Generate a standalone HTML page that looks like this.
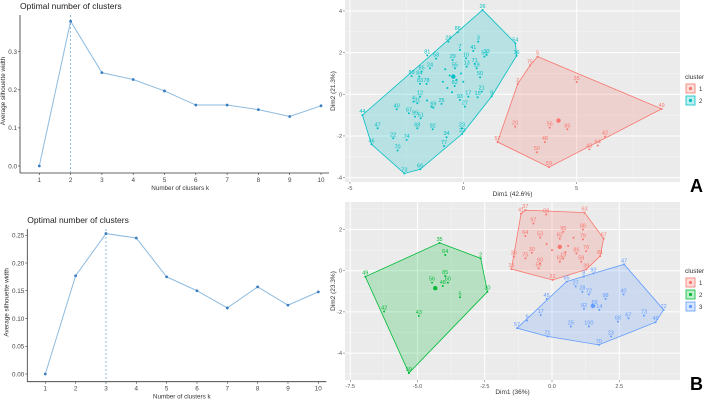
<!DOCTYPE html>
<html><head><meta charset="utf-8"><style>
body{margin:0;background:#fff;font-family:"Liberation Sans",sans-serif}
svg{display:block}
</style></head><body>
<svg id="s" width="708" height="401" xmlns="http://www.w3.org/2000/svg" font-family="Liberation Sans, sans-serif"></svg>
<script>
// ---- Panel A line chart
const kA=[1,2,3,4,5,6,7,8,9,10];
const silA=[0,0.38,0.245,0.227,0.197,0.16,0.16,0.148,0.13,0.158];
const yTicksA=[0,0.1,0.2,0.3];
const yLabA=["0.0","0.1","0.2","0.3"];
const optA=2;
// ---- Panel B line chart
const kB=[1,2,3,4,5,6,7,8,9,10];
const silB=[0,0.177,0.253,0.245,0.175,0.15,0.119,0.157,0.124,0.148];
const yTicksB=[0,0.05,0.1,0.15,0.2,0.25];
const yLabB=["0.00","0.05","0.10","0.15","0.20","0.25"];
const optB=3;
// ---- Panel A scatter: [label,x,y,cluster]
const ptsA=[
["26",0.85,4.05,2],["54",2.3,2.45,2],["16",2.35,1.85,2],["9",1.25,-0.1,2],["22",-0.05,-1.9,2],["66",-1.9,-3.6,2],["73",-2.6,-3.8,2],["46",-4.05,-2.4,2],["44",-4.45,-1.0,2],
["3",0.66,2.53,2],["41",0.44,2.08,2],["7",-0.15,2.13,2],["10",0.12,1.73,2],["29",-0.47,1.65,2],["81",-1.59,1.87,2],["58",-1.2,1.71,2],["24",-1.47,1.25,2],["85",-1.84,1.09,2],["89",-2.28,0.88,2],["84",-1.94,0.85,2],["83",-1.91,0.5,2],["78",-1.62,0.5,2],["12",-1.91,-0.11,2],["4",-2.2,-0.35,2],["31",-2.03,-0.43,2],["40",-2.94,-0.72,2],["67",-2.4,-0.91,2],["99",-2.13,-1.07,2],["61",-1.88,-1.15,2],["68",-2.03,-1.63,2],["47",-3.78,-1.63,2],["22",-3.09,-2.11,2],["74",-2.5,-2.19,2],["70",-2.9,-2.7,2],["92",-1.35,-1.68,2],["34",-0.74,-2.06,2],["77",-0.85,-2.48,2],["23",-0.06,-1.63,2],["25",-0.96,-0.46,2],["69",-1.32,-0.64,2],["93",-0.15,-0.27,2],["27",0.07,-0.59,2],["17",0.22,-0.11,2],["15",0.63,-0.14,2],["21",0.81,0.13,2],["50",0.74,0.82,2],["33",1.03,1.89,2],["53",0.93,1.81,2],["71",0.5,1.46,2],["19",0.59,1.25,2],["13",0.15,1.33,2],["55",-0.37,1.25,2],["82",-0.38,0.4,2],["28",-0.66,2.53,2],["86",-0.25,2.98,2],["",-0.8,1.2,2],["",-0.6,0.9,2],["",-0.3,0.7,2],["",-0.1,1.0,2],["",-0.7,0.3,2],["",-0.9,0.6,2],["",-0.5,0.1,2],["",0.0,0.6,2],["",-1.6,-0.3,2],["",-1.4,-0.6,2],
["5",3.28,1.81,1],["75",2.94,1.38,1],["2",2.4,0.5,1],["35",5.0,0.59,1],["49",8.75,-0.7,1],["42",6.25,-2.03,1],["64",5.93,-2.46,1],["43",5.56,-2.64,1],["59",3.78,-3.5,1],["50",3.24,-2.78,1],["48",3.6,-2.29,1],["56",3.81,-1.6,1],["85",4.59,-1.68,1],["20",2.29,-1.55,1],["57",1.51,-2.29,1]];
const hullA1=[[3.28,1.81],[8.75,-0.7],[3.78,-3.5],[1.51,-2.29],[2.4,0.5],[2.94,1.38]];
const hullA2=[[0.85,4.05],[2.3,2.45],[2.35,1.85],[1.25,-0.1],[-0.05,-1.9],[-1.9,-3.6],[-2.6,-3.8],[-4.05,-2.4],[-4.45,-1.0]];
const centA=[[4.2,-1.26,1],[-0.44,0.85,2]];
// ---- Panel B scatter
const ptsB=[
["35",-4.18,1.35,2],["2",-2.65,0.6,2],["30",-2.4,-1.02,2],["59",-5.32,-4.97,2],["49",-6.94,-0.29,2],["64",-3.97,0.76,2],["85",-3.97,-0.26,2],["56",-4.46,-0.58,2],["48",-4.06,-0.74,2],["60",-3.87,-0.58,2],["5",-3.42,-1.29,2],["43",-4.95,-2.19,2],["42",-6.24,-1.98,2],
["37",-0.99,2.94,1],["63",1.21,2.82,1],["67",1.92,1.56,1],["81",1.79,0.71,1],["39",1.27,0.06,1],["21",0.02,-0.45,1],["15",-1.51,0.08,1],["41",-1.15,2.77,1],["98",-0.22,2.73,1],["97",-0.69,2.29,1],["64",-0.99,1.69,1],["88",1.15,2.0,1],["95",0.42,1.89,1],["30",-0.75,0.87,1],["36",-1.42,0.68,1],["75",-0.99,0.6,1],["60",-0.44,0.35,1],["55",-0.5,0.11,1],["86",0.91,0.84,1],["76",1.27,0.95,1],["58",1.09,0.44,1],["79",1.15,1.52,1],["19",0.42,0.6,1],["62",0.29,0.44,1],["53",-0.44,1.61,1],["82",0.29,1.56,1],["",0.6,1.2,1],["",0.0,1.0,1],["",0.8,1.6,1],["",-0.2,1.3,1],["",0.5,0.9,1],
["47",2.68,0.31,3],["22",4.15,-1.9,3],["46",3.85,-2.5,3],["70",1.74,-3.6,3],["71",-0.17,-3.19,3],["57",-1.3,-2.79,3],["65",0.54,-0.53,3],["93",1.54,-0.13,3],["8",1.18,-0.29,3],["27",0.88,-0.77,3],["28",1.13,-1.02,3],["72",1.37,-1.15,3],["98",1.99,-1.37,3],["40",2.66,-1.15,3],["45",-0.2,-1.37,3],["17",-0.42,-2.15,3],["9",-0.93,-2.42,3],["25",0.7,-2.71,3],["100",1.37,-2.71,3],["92",1.19,-1.85,3],["69",1.58,-1.71,3],["14",1.76,-1.9,3],["68",2.45,-2.47,3],["67",2.84,-2.31,3],["73",3.42,-2.18,3],["23",2.19,-3.19,3]];
const hullB1=[[-1.15,2.77],[-0.99,2.94],[1.21,2.82],[1.92,1.56],[1.79,0.71],[1.27,0.06],[0.02,-0.45],[-1.51,0.08]];
const hullB2=[[-4.18,1.35],[-2.65,0.6],[-2.4,-1.02],[-5.32,-4.97],[-6.94,-0.29]];
const hullB3=[[2.68,0.31],[4.15,-1.9],[3.85,-2.5],[1.74,-3.6],[-0.17,-3.19],[-1.3,-2.79],[0.54,-0.53],[1.54,-0.13]];
const centB=[[0.29,1.16,1],[-4.34,-0.85,2],[1.52,-1.71,3]];

const NS="http://www.w3.org/2000/svg";
const svg=document.getElementById('s');
function mk(tag,at,parent,txt){const e=document.createElementNS(NS,tag);for(const k in at)e.setAttribute(k,at[k]);if(txt!==undefined)e.textContent=txt;(parent||svg).appendChild(e);return e;}

function lineChart(name,ks,vals,yt,yl,opt,px0,px1,py0,ppu,y0,axX,axY,title,tY,ytOff){
  const g=mk('g',{},svg);
  
  
  const sx=k=>px0+(k-1)*(px1-px0)/9;
  const sy=v=>py0-v*ppu;
  const t=mk('text',{x:axX,y:tY,'font-size':8.5,fill:'#222'},g,title);
  
  
  mk('line',{x1:axX,y1:tY+6,x2:axX,y2:axY,stroke:'#333','stroke-width':0.8},g);
  mk('line',{x1:axX,y1:axY,x2:px1+8,y2:axY,stroke:'#333','stroke-width':0.8},g);
  yt.forEach((v,i)=>{const y=sy(v);mk('line',{x1:axX-2,y1:y,x2:axX,y2:y,stroke:'#333','stroke-width':0.6},g);
    const tl=mk('text',{x:axX-3,y:y+2.3,'font-size':6.3,'text-anchor':'end',fill:'#444'},g,yl[i]);
    
    });
  ks.forEach(k=>{const x=sx(k);mk('line',{x1:x,y1:axY,x2:x,y2:axY+2,stroke:'#333','stroke-width':0.6},g);
    const tl=mk('text',{x:x,y:axY+9,'font-size':6.3,'text-anchor':'middle',fill:'#444'},g,String(k));
    
    });
  const xt=mk('text',{x:(px0+px1)/2,y:axY+17,'font-size':6.3,'text-anchor':'middle',fill:'#333'},g,'Number of clusters k');
  
  
  const yc=(tY+axY)/2;
  const yx=axX-ytOff;
  const ytt=mk('text',{x:yx,y:yc,'font-size':6.3,'text-anchor':'middle',fill:'#333',transform:`rotate(-90 ${yx} ${yc})`},g,'Average silhouette width');
  
  
  mk('line',{x1:sx(opt),y1:tY+6,x2:sx(opt),y2:axY,stroke:'#6fa8d6','stroke-width':0.8,'stroke-dasharray':'2,2'},g);
  const pl=mk('polyline',{points:ks.map((k,i)=>sx(k)+','+sy(vals[i])).join(' '),fill:'none',stroke:'#8cbbe0','stroke-width':1},g);
  
  
  ks.forEach((k,i)=>{const c=mk('circle',{cx:sx(k),cy:sy(vals[i]),r:1.4,fill:'#3a7dbf'},g);
    
    });
}
lineChart('silhouette-chart-a',kA,silA,yTicksA,yLabA,optA,39.3,321,166,381,0,20,173,'Optimal number of clusters',9,15);
lineChart('silhouette-chart-b',kB,silB,yTicksB,yLabB,optB,45.3,318.3,374,555,0,27.3,381.7,'Optimal number of clusters',223,19);

const COLS2={1:'#F8766D',2:'#00BFC4'};
const COLS3={1:'#F8766D',2:'#00BA38',3:'#619CFF'};
function scatter(name,pts,hulls,cents,cols,L,R,T,B,x0px,xppu,y0px,yppu,xMaj,xMajLab,xMin,yMaj,yMajLab,yMin,xTitle,yTitle,nCl,letter){
  const g=mk('g',{},svg);
  
  
  const sx=v=>x0px+v*xppu, sy=v=>y0px-v*yppu;
  const bg=mk('rect',{x:L,y:T,width:R-L,height:B-T,fill:'#ebebeb'},g);
  
  
  xMin.forEach(v=>mk('line',{x1:sx(v),x2:sx(v),y1:T,y2:B,stroke:'#f7f7f7','stroke-width':0.5},g));
  yMin.forEach(v=>mk('line',{y1:sy(v),y2:sy(v),x1:L,x2:R,stroke:'#f7f7f7','stroke-width':0.5},g));
  xMaj.forEach((v,i)=>{mk('line',{x1:sx(v),x2:sx(v),y1:T,y2:B,stroke:'#fff','stroke-width':1},g);
    mk('line',{x1:sx(v),x2:sx(v),y1:B,y2:B+2,stroke:'#555','stroke-width':0.5},g);
    const tl=mk('text',{x:sx(v),y:B+8,'font-size':5.5,'text-anchor':'middle',fill:'#555'},g,xMajLab[i]);
    
    });
  yMaj.forEach((v,i)=>{mk('line',{y1:sy(v),y2:sy(v),x1:L,x2:R,stroke:'#fff','stroke-width':1},g);
    mk('line',{y1:sy(v),y2:sy(v),x1:L-2,x2:L,stroke:'#555','stroke-width':0.5},g);
    const tl=mk('text',{x:L-3,y:sy(v)+2,'font-size':5.5,'text-anchor':'end',fill:'#555'},g,yMajLab[i]);
    
    });
  hulls.forEach((h,i)=>{const p=mk('polygon',{points:h.map(q=>sx(q[0])+','+sy(q[1])).join(' '),fill:cols[i+1],'fill-opacity':0.22,stroke:cols[i+1],'stroke-width':0.8},g);
    
    });
  pts.forEach(p=>{const c=mk('circle',{cx:sx(p[1]),cy:sy(p[2]),r:1,fill:cols[p[3]]},g);
    
    
    if(p[0]){const t=mk('text',{x:sx(p[1]),y:sy(p[2])-2,'font-size':5.5,'text-anchor':'middle',fill:cols[p[3]]},g,p[0]);
      
      }});
  cents.forEach(c=>{const e=mk('circle',{cx:sx(c[0]),cy:sy(c[1]),r:2.2,fill:cols[c[2]]},g);
    
    });
  const xt=mk('text',{x:(L+R)/2,y:B+14,'font-size':6.5,'text-anchor':'middle',fill:'#333'},g,xTitle);
  
  
  const yc=(T+B)/2;
  const yt=mk('text',{x:L-10,y:yc,'font-size':6.5,'text-anchor':'middle',fill:'#333',transform:`rotate(-90 ${L-10} ${yc})`},g,yTitle);
  
  
  const ly=yc-12-(nCl-2)*6;
  const lt=mk('text',{x:685,y:ly,'font-size':6.5,fill:'#333'},g,'cluster');
  
  
  for(let i=1;i<=nCl;i++){
    const yy=ly+5+(i-1)*12;
    const r=mk('rect',{x:686,y:yy,width:9,height:9,fill:cols[i],'fill-opacity':0.25,stroke:cols[i],'stroke-width':0.8},g);
    
    
    mk('circle',{cx:690.5,cy:yy+4.5,r:1.6,fill:cols[i]},g);
    const t=mk('text',{x:699,y:yy+7,'font-size':6,fill:'#333'},g,String(i));
    
    
  }
  const lt2=mk('text',{x:690,y:B+10,'font-size':18,'font-weight':'bold',fill:'#000'},g,letter);
  
  
}
scatter('pca-cluster-plot-a',ptsA,[hullA1,hullA2],centA,COLS2,345,680,0,182,463.3,22.67,94.3,20.83,
  [-5,0,5],['-5','0','5'],[-2.5,2.5,7.5],[-4,-2,0,2,4],['-4','-2','0','2','4'],[-3,-1,1,3],'Dim1 (42.6%)','Dim2 (21.3%)',2,'A');
scatter('pca-cluster-plot-b',ptsB,[hullB1,hullB2,hullB3],centB,COLS3,345,680,202,380,552,26.9,270.7,20.6,
  [-7.5,-5,-2.5,0,2.5],['-7.5','-5.0','-2.5','0.0','2.5'],[-6.25,-3.75,-1.25,1.25,3.75],[-4,-2,0,2],['-4','-2','0','2'],[-5,-3,-1,1,3],'Dim1 (36%)','Dim2 (23.3%)',3,'B');
</script>
</body></html>
